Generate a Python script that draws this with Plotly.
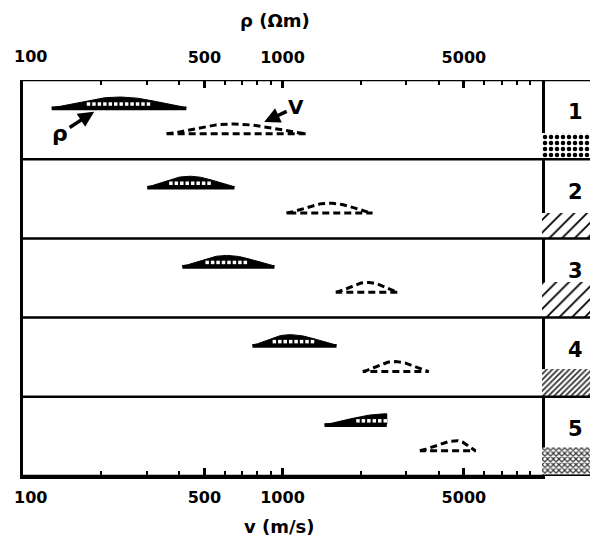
import numpy as np
import plotly.graph_objects as go

# ---------------- data ----------------
row_labels = ["1", "2", "3", "4", "5"]
rho_min  = [129, 301, 411, 766, 1452]     # resistivity range (Ohm m)
rho_peak = [235, 437, 608, 1064, 2522]
rho_max  = [426, 653, 931, 1615, 2522]
v_min  = [357, 1035, 1604, 2037, 3381]    # velocity range (m/s)
v_peak = [641, 1517, 2128, 2704, 4700]
v_max  = [1240, 2223, 2781, 3664, 5559]

tick_vals = [100, 500, 1000, 5000]
tick_text = ["100", "500", "1000", "5000"]
minor_vals = [200, 300, 400, 600, 700, 800, 900,
              2000, 3000, 4000, 6000, 7000, 8000, 9000]
swatch_patterns = [".", "/", "/", "/", "x"]

# ---------------- styles ----------------
SOLID_BASE = 0.36      # fraction of panel below top
DASH_BASE = 0.68
SOLID_H = 0.13
DASH_H = 0.125
swatch_h = [0.33, 0.32, 0.45, 0.35, 0.36]
swatch_style = [
    dict(size=6, solidity=0.45, fgcolor="black"),
    dict(size=9, solidity=0.2, fgcolor="black"),
    dict(size=9, solidity=0.2, fgcolor="black"),
    dict(size=4, solidity=0.45, fgcolor="#333"),
    dict(size=4, solidity=0.5, fgcolor="#333"),
]
FONT = "DejaVu Sans"
NROW = len(row_labels)


def profile(lo, pk, hi, h, n=80):
    u0, up, u1 = np.log10([lo, pk, hi])
    u = np.linspace(u0, u1, n)
    s = np.where(u <= up,
                 (up - u) / max(up - u0, 1e-9),
                 (u - up) / max(u1 - up, 1e-9))
    y = h * np.clip(1 - s ** 2, 0, None) ** 1.6
    return u, y


fig = go.Figure()

for k in range(NROW):
    top = NROW - k
    # ---- solid (resistivity) lens ----
    base = top - SOLID_BASE
    u, y = profile(rho_min[k], rho_peak[k], rho_max[k], SOLID_H)
    xs = 10 ** u
    fig.add_trace(go.Scatter(
        x=np.concatenate([xs, xs[::-1]]),
        y=np.concatenate([base + 0.015 + y, np.full(len(xs), base + 0.015)]),
        fill="toself", fillcolor="black", mode="lines",
        line=dict(color="black", width=1), hoverinfo="skip"))
    fig.add_trace(go.Scatter(
        x=[rho_min[k], rho_max[k]], y=[base, base], mode="lines",
        line=dict(color="black", width=3.5), hoverinfo="skip"))
    # white dots inside the thick part of the lens
    thick = u[y >= 0.62 * SOLID_H]
    if len(thick) > 1:
        du = 0.021
        ud = np.arange(thick[0] + du / 2, thick[-1], du)
        fig.add_trace(go.Scatter(
            x=10 ** ud, y=np.full(len(ud), base + 0.015 + 0.32 * SOLID_H),
            mode="markers", hoverinfo="skip",
            marker=dict(symbol="square", size=3.5, color="white",
                        line=dict(width=0))))

    # ---- dashed (velocity) lens ----
    base = top - DASH_BASE
    u, y = profile(v_min[k], v_peak[k], v_max[k], DASH_H)
    xs = 10 ** u
    fig.add_trace(go.Scatter(
        x=np.concatenate([xs, xs[::-1], xs[:1]]),
        y=np.concatenate([base + y, np.full(len(xs), base), [base]]),
        mode="lines", hoverinfo="skip",
        line=dict(color="black", width=3, dash="7px,4px")))

    # ---- pattern swatch in the right column ----
    st = swatch_style[k]
    fig.add_trace(go.Bar(
        x=[0.5], y=[swatch_h[k]], base=[top - 1], width=[1],
        xaxis="x3", yaxis="y3", hoverinfo="skip",
        marker=dict(color="white", line=dict(width=0),
                    pattern=dict(shape=swatch_patterns[k], size=st["size"],
                                 solidity=st["solidity"], fgcolor=st["fgcolor"],
                                 bgcolor="white", fgopacity=1))))
    fig.add_annotation(x=0.6, y=top - 0.41, xref="x3", yref="y3",
                       text=row_labels[k], showarrow=False,
                       font=dict(family=FONT, size=21, color="black",
                                 weight="bold"))

# invisible trace for the top axis
fig.add_trace(go.Scatter(x=[100, 10000], y=[0, 0], xaxis="x2", mode="markers",
                         marker=dict(opacity=0), hoverinfo="skip"))

# horizontal panel separators across the whole width
for j in range(NROW + 1):
    fig.add_shape(type="line", xref="paper", yref="y", x0=0, x1=1, y0=j, y1=j,
                  line=dict(color="black", width=2.5))

XD = 519 / 575
tickfont = dict(family=FONT, size=16, color="black", weight="bold")
# the first label sits at the very left edge; it is drawn as an annotation
axis_text = [""] + tick_text[1:]
axis_common = dict(
    type="log", range=[2, 4], tickmode="array", tickvals=tick_vals,
    ticktext=axis_text, ticks="inside", ticklen=8, tickwidth=3,
    tickcolor="black", tickfont=tickfont, showgrid=False, zeroline=False,
    automargin=False,
    minor=dict(tickvals=minor_vals, ticks="inside", ticklen=5, tickwidth=1.5,
               tickcolor="black", showgrid=False),
)

# page body has an 8px margin: build the figure 8px smaller so that the
# plot sits where the reference has it
fig.update_layout(
    width=590, height=540,
    margin=dict(l=15, r=0, t=72, b=72, autoexpand=False),
    paper_bgcolor="white", plot_bgcolor="white",
    showlegend=False, barmode="overlay",
    xaxis=dict(domain=[0, XD], showline=True, linecolor="black", linewidth=2.5,
               mirror=False, anchor="y", side="bottom",
               ticklabelstandoff=5, **axis_common),
    xaxis2=dict(domain=[0, XD], overlaying="x", anchor="y", side="top",
                showline=False, ticklabelstandoff=13, **axis_common),
    yaxis=dict(range=[0, NROW], showticklabels=False, ticks="", showgrid=False,
               zeroline=False, showline=True, linecolor="black",
               linewidth=2.5, mirror=True, fixedrange=True, automargin=False),
    xaxis3=dict(domain=[XD, 1], range=[0, 1], visible=False, anchor="y3"),
    yaxis3=dict(domain=[0, 1], range=[0, NROW], visible=False, anchor="x3"),
)

# left-edge "100" labels (top and bottom)
for ypix in (57, 497):
    fig.add_annotation(x=(30 - 23) / 575, y=(476 - ypix) / 396, xref="paper",
                       yref="paper", xanchor="center", yanchor="middle",
                       text=tick_text[0], showarrow=False, font=tickfont)

# axis titles
fig.add_annotation(x=(275 - 23) / 575, y=(476 - 21) / 396, xref="paper",
                   yref="paper", xanchor="center", yanchor="middle",
                   text="ρ (Ωm)", showarrow=False,
                   font=dict(family=FONT, size=18, color="black", weight="bold"))
fig.add_annotation(x=(279 - 23) / 575, y=(476 - 526) / 396, xref="paper",
                   yref="paper", xanchor="center", yanchor="middle",
                   text="v (m/s)", showarrow=False,
                   font=dict(family=FONT, size=18, color="black", weight="bold"))

# pointer labels in panel 1
fig.add_annotation(x=np.log10(188), y=NROW - 0.40, xref="x", yref="y",
                   text="ρ", showarrow=True, ax=-34, ay=22,
                   arrowhead=2, arrowsize=0.9, arrowwidth=3.5, arrowcolor="black",
                   font=dict(family=FONT, size=22, color="black", weight="bold"))
fig.add_annotation(x=np.log10(850), y=NROW - 0.53, xref="x", yref="y",
                   text="V", showarrow=True, ax=32, ay=-15,
                   arrowhead=2, arrowsize=0.9, arrowwidth=3.5, arrowcolor="black",
                   font=dict(family=FONT, size=20, color="black", weight="bold"))

fig.write_html("out.html")
